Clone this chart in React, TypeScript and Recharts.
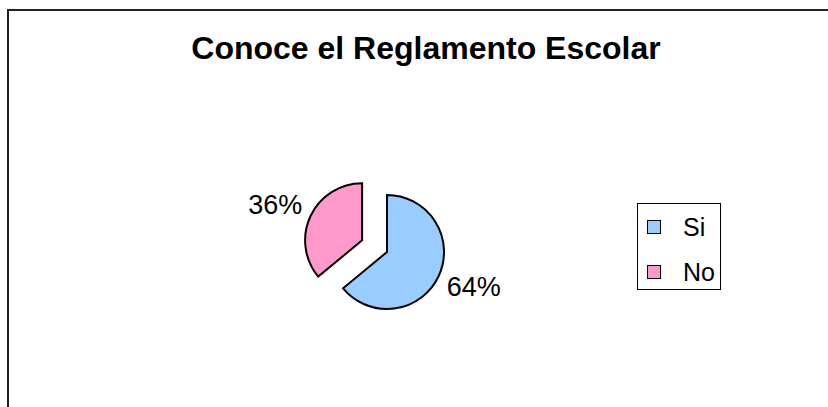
import React from 'react';
import { PieChart, Pie, Cell, Legend } from 'recharts';

const categories = ['Si', 'No'];
const values = [64, 36];
const colors = ['#99CCFF', '#FF99CC'];
const title = 'Conoce el Reglamento Escolar';

const data = categories.map((name, i) => ({ name, value: values[i] }));
const total = values.reduce((a, b) => a + b, 0);

const RAD = Math.PI / 180;

const makeLabel = (visibleName: string) => (props: any) => {
  const { cx, cy, midAngle, outerRadius, payload, value } = props;
  const name = payload?.name ?? props.name;
  if (name !== visibleName) return null;
  const x = cx + (outerRadius + 39) * Math.cos(-midAngle * RAD);
  const y = cy + (outerRadius + 25) * Math.sin(-midAngle * RAD);
  return (
    <text
      x={x}
      y={y}
      textAnchor="middle"
      dominantBaseline="central"
      fill="#000"
      fontSize={27}
      fontFamily="'Liberation Sans', Arial, sans-serif"
    >
      {`${Math.round((value / total) * 100)}%`}
    </text>
  );
};

const renderLegend = () => (
  <div
    style={{
      width: 82,
      height: 85,
      border: '1px solid #000',
      background: '#fff',
      boxSizing: 'content-box',
      fontFamily: "'Liberation Sans', Arial, sans-serif",
      fontSize: 25,
      color: '#000',
      position: 'relative',
    }}
  >
    {categories.map((c, i) => (
      <div
        key={c}
        style={{
          position: 'absolute',
          left: 9,
          top: 8 + i * 45,
          height: 30,
          display: 'flex',
          alignItems: 'center',
        }}
      >
        <span
          style={{
            display: 'inline-block',
            width: 12,
            height: 12,
            background: colors[i],
            border: '1.5px solid #000',
            marginRight: 22,
          }}
        />
        <span>{c}</span>
      </div>
    ))}
  </div>
);

const CX = 387;
const CY = 252;
const R = 57;
const EXPLODE = 27.5;

export default function App() {
  // explosion direction for the "No" slice (mid angle of second slice)
  const noStart = 90 - (values[0] / total) * 360;
  const noMid = noStart - (values[1] / total) * 180;
  const dx = EXPLODE * Math.cos(noMid * RAD);
  const dy = -EXPLODE * Math.sin(noMid * RAD);

  return (
    <div style={{ position: 'absolute', left: 0, top: 0, width: 828, height: 407, overflow: 'hidden', background: '#fff' }}>
      <div
        style={{
          position: 'absolute',
          left: 7,
          top: 9,
          width: 900,
          height: 500,
          border: '2px solid #222',
        }}
      />
      <div
        style={{
          position: 'absolute',
          left: 0,
          top: 30,
          width: 852,
          textAlign: 'center',
          fontFamily: "'Liberation Sans', Arial, sans-serif",
          fontWeight: 'bold',
          fontSize: 32,
          lineHeight: '36px',
          color: '#000',
        }}
      >
        {title}
      </div>
      <div style={{ position: 'absolute', left: 0, top: 0 }}>
        <PieChart width={828} height={407} margin={{ top: 0, right: 0, bottom: 0, left: 0 }}>
          <Pie
            data={data}
            dataKey="value"
            nameKey="name"
            cx={CX}
            cy={CY}
            outerRadius={R}
            startAngle={90}
            endAngle={-270}
            isAnimationActive={false}
            label={makeLabel('Si')}
            labelLine={false}
            legendType="none"
          >
            {data.map((d, i) => (
              <Cell
                key={d.name}
                fill={i === 0 ? colors[0] : 'none'}
                stroke={i === 0 ? '#000' : 'none'}
                strokeWidth={2}
              />
            ))}
          </Pie>
          <Pie
            data={data}
            dataKey="value"
            nameKey="name"
            cx={CX + dx}
            cy={CY + dy}
            outerRadius={R}
            startAngle={90}
            endAngle={-270}
            isAnimationActive={false}
            label={makeLabel('No')}
            labelLine={false}
            legendType="none"
          >
            {data.map((d, i) => (
              <Cell
                key={d.name}
                fill={i === 1 ? colors[1] : 'none'}
                stroke={i === 1 ? '#000' : 'none'}
                strokeWidth={2}
              />
            ))}
          </Pie>
          <Legend
            content={renderLegend}
            wrapperStyle={{ position: 'absolute', left: 637, top: 203, width: 'auto' }}
          />
        </PieChart>
      </div>
    </div>
  );
}
